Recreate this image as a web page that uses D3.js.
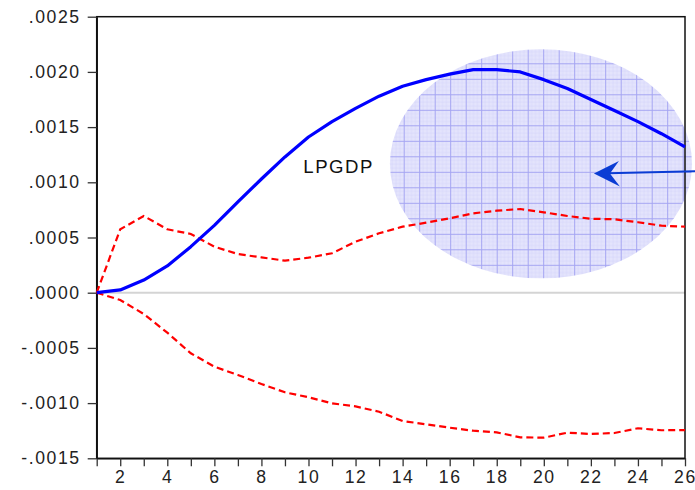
<!DOCTYPE html>
<html>
<head>
<meta charset="utf-8">
<script src="https://cdn.jsdelivr.net/npm/d3@7"></script>
<style>
  body { margin: 0; background: #fff; }
  svg { display: block; font-family: "Liberation Sans", Arial, sans-serif; }
  .tick text { fill: #222; font-size: 17.6px; letter-spacing: 1.6px; }
</style>
</head>
<body>
<svg width="695" height="490"></svg>
<script>
// periods 1..26
var periods = d3.range(1, 27);

// impulse response of LPGDP
var response = [0, 0.000025, 0.000115, 0.000242, 0.000417, 0.000610, 0.000822, 0.00103, 0.00123,
  0.00141, 0.00155, 0.00167, 0.00178, 0.00187, 0.00193, 0.00198, 0.00202, 0.00202, 0.00200,
  0.00193, 0.00185, 0.00175, 0.00165, 0.00155, 0.00144, 0.00132];

// +/- 2 s.e. bands
var upperBand = [0, 0.000574, 0.000695, 0.000574, 0.000532, 0.000417, 0.000350, 0.000320, 0.000290,
  0.000317, 0.000357, 0.000462, 0.000538, 0.000598, 0.000634, 0.000674, 0.000719, 0.000743, 0.000758,
  0.000728, 0.000695, 0.000670, 0.000665, 0.000638, 0.000607, 0.000598];
var lowerBand = [0, -0.000066, -0.000193, -0.000362, -0.000549, -0.000670, -0.000745, -0.000827, -0.000902,
  -0.000947, -0.001002, -0.00103, -0.001078, -0.001162, -0.001192, -0.001223, -0.00125, -0.001265, -0.00131,
  -0.001313, -0.001268, -0.00128, -0.001271, -0.001228, -0.001246, -0.001244];

var yTicks = [-0.0015, -0.0010, -0.0005, 0, 0.0005, 0.0010, 0.0015, 0.0020, 0.0025];
var yTickLabels = ["-.0015", "-.0010", "-.0005", ".0000", ".0005", ".0010", ".0015", ".0020", ".0025"];
var seriesLabel = "LPGDP";

var svg = d3.select("svg"),
    margin = {top: 16.7, right: 10, bottom: 31.7, left: 96.7},
    width = +svg.attr("width") - margin.left - margin.right,
    height = +svg.attr("height") - margin.top - margin.bottom;

var x = d3.scaleLinear().domain([1, 26]).range([0, width]),
    y = d3.scaleLinear().domain([-0.0015, 0.0025]).range([height, 0]);

var g = svg.append("g")
    .attr("transform", "translate(" + margin.left + "," + margin.top + ")");

// grid pattern for the highlight ellipse
var defs = svg.append("defs");
var pat = defs.append("pattern")
    .attr("id", "grid")
    .attr("patternUnits", "userSpaceOnUse")
    .attr("x", 0.7 - margin.left).attr("y", 1.3 - margin.top)
    .attr("width", 15.5).attr("height", 15.5);
pat.append("rect").attr("width", 15.5).attr("height", 15.5).attr("fill", "#e4e4fc");
[3.875, 7.75, 11.625].forEach(function(p) {
  pat.append("line").attr("x1", p).attr("x2", p).attr("y1", 0).attr("y2", 15.5)
    .attr("stroke", "#d2d2f8").attr("stroke-width", 0.5);
  pat.append("line").attr("y1", p).attr("y2", p).attr("x1", 0).attr("x2", 15.5)
    .attr("stroke", "#d2d2f8").attr("stroke-width", 0.5);
});
pat.append("line").attr("x1", 0.5).attr("x2", 0.5).attr("y1", 0).attr("y2", 15.5)
  .attr("stroke", "#a4a4f2").attr("stroke-width", 1);
pat.append("line").attr("y1", 0.5).attr("y2", 0.5).attr("x1", 0).attr("x2", 15.5)
  .attr("stroke", "#a4a4f2").attr("stroke-width", 1);

// zero line
g.append("line")
    .attr("x1", 0).attr("x2", width)
    .attr("y1", y(0)).attr("y2", y(0))
    .attr("stroke", "#d4d4d4").attr("stroke-width", 2);

// highlight ellipse (annotation)
var ex0 = x(13.46), ex1 = x(26.3), ey0 = y(0.002205), ey1 = y(0.00013);
g.append("ellipse")
    .attr("cx", (ex0 + ex1) / 2).attr("cy", (ey0 + ey1) / 2)
    .attr("rx", (ex1 - ex0) / 2).attr("ry", (ey1 - ey0) / 2)
    .attr("fill", "url(#grid)");

// frame
g.append("rect")
    .attr("width", width).attr("height", height)
    .attr("fill", "none").attr("stroke", "#111").attr("stroke-width", 1.5);

g.append("g")
    .attr("class", "axis axis--x")
    .attr("transform", "translate(0," + height + ")")
    .call(d3.axisBottom(x).tickValues(periods).tickSize(8).tickSizeOuter(0)
      .tickFormat(function(d) { return d % 2 === 0 ? d : ""; }))
    .call(function(a) {
      a.select(".domain").attr("stroke", "#111").attr("stroke-width", 1.5);
      a.selectAll(".tick line").attr("stroke", "#333").attr("stroke-width", 1.3);
      a.selectAll(".tick text").attr("y", 12).attr("dy", "0.71em");
    });

g.append("g")
    .attr("class", "axis axis--y")
    .call(d3.axisLeft(y).tickValues(yTicks).tickSize(9).tickSizeOuter(0)
      .tickFormat(function(d, i) { return yTickLabels[i]; }))
    .call(function(a) {
      a.select(".domain").attr("stroke", "#111").attr("stroke-width", 1.5);
      a.selectAll(".tick line").attr("stroke", "#333").attr("stroke-width", 1.3);
      a.selectAll(".tick text").attr("x", -16);
    });

var line = function(vals) {
  return d3.line()
    .x(function(d, i) { return x(periods[i]); })
    .y(function(d) { return y(d); })(vals);
};

g.append("path").attr("d", line(upperBand))
    .attr("fill", "none").attr("stroke", "#ff0000").attr("stroke-width", 2.2)
    .attr("stroke-dasharray", "7,4");
g.append("path").attr("d", line(lowerBand))
    .attr("fill", "none").attr("stroke", "#ff0000").attr("stroke-width", 2.2)
    .attr("stroke-dasharray", "7,4");
g.append("path").attr("d", line(response))
    .attr("fill", "none").attr("stroke", "#0000ff").attr("stroke-width", 3.2)
    .attr("stroke-linejoin", "round");

g.append("text")
    .attr("x", x(9.78)).attr("y", y(0.001087))
    .attr("font-size", "18.6px").attr("letter-spacing", "1.5px").attr("fill", "#111")
    .text(seriesLabel);

// arrow pointing into the ellipse
var ax0 = x(26.43), ay0 = y(0.00110), ax1 = x(22.13), ay1 = y(0.00108);
g.append("line")
    .attr("x1", ax0).attr("y1", ay0).attr("x2", ax1 + 14).attr("y2", ay1 - 0.2)
    .attr("stroke", "#0a3cd4").attr("stroke-width", 2);
g.append("path")
    .attr("d", "M" + ax1 + "," + ay1 +
      "L" + (ax1 + 25) + "," + (ay1 - 12.5) +
      "L" + (ax1 + 16) + "," + ay1 +
      "L" + (ax1 + 26) + "," + (ay1 + 13) + "Z")
    .attr("fill", "#0a3cd4");
</script>
</body>
</html>
